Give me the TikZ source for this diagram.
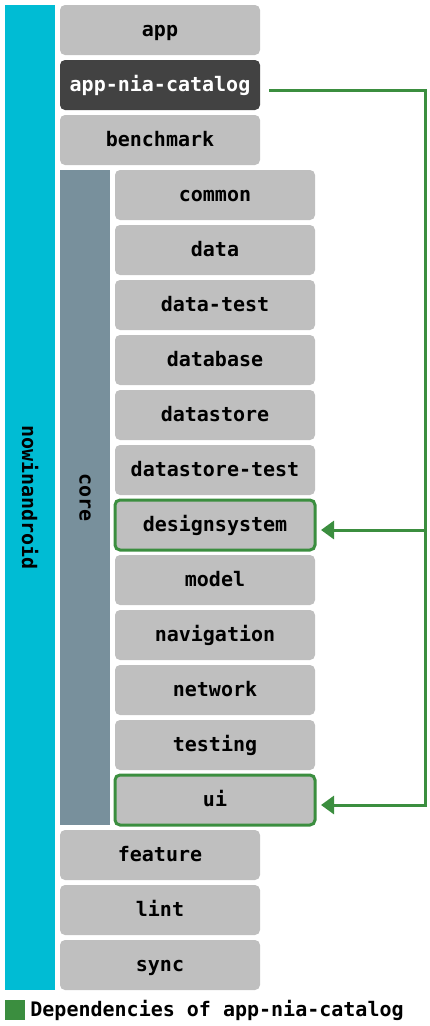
\documentclass[tikz,border=0pt]{standalone}
\usepackage{fontspec}
\setmonofont{DejaVu Sans Mono}
\usetikzlibrary{positioning, arrows.meta}
\definecolor{niaCyan}{HTML}{00BCD4}
\definecolor{niaSlate}{HTML}{78909C}
\definecolor{niaGray}{HTML}{BFBFBF}
\definecolor{niaDark}{HTML}{424242}
\definecolor{niaGreen}{HTML}{3B8E3F}
\tikzset{
    x=1pt, y=1pt, % one unit is one pixel of the reference
    every node/.style={font=\fontsize{20}{22}\selectfont\ttfamily\bfseries},
    node distance=5pt, % gap between stacked modules
    >={Triangle[length=13pt, width=18pt]}, % filled arrow heads
}
\begin{document}
\begin{tikzpicture}[
                                styleBox/.style={fill=niaGray, rounded corners=5pt, minimum width=200pt, minimum height=50pt, inner sep=0pt, outer sep=0pt, text height=13.4pt, text depth=0pt},
                                styleDark/.style={styleBox, fill=niaDark, text=white},
                                styleDep/.style={styleBox, draw=niaGreen, line width=3pt},
                                styleBar/.style={rotate=-90, minimum height=50pt, inner sep=0pt, outer sep=0pt},
                                styleLink/.style={draw=niaGreen, line width=3pt, line join=miter},
                            ]
                            \useasboundingbox (0,0) rectangle (430,-1026);
                            \node[styleBar, fill=niaCyan, minimum width=985pt] (root) at (30,-497.5) {nowinandroid};
                            \node[styleBox, anchor=north west] (app) at (60,-5) {app};
                            \node[styleDark, below=of app] (catalog) {app-nia-catalog};
                            \node[styleBox, below=of catalog] (benchmark) {benchmark};
                            \node[styleBar, fill=niaSlate, minimum width=655pt] (core) at (85,-497.5) {core};
                            \node[styleBox, anchor=north west] (common) at (115,-170) {common};
                            \node[styleBox, below=of common] (data) {data};
                            \node[styleBox, below=of data] (datatest) {data-test};
                            \node[styleBox, below=of datatest] (database) {database};
                            \node[styleBox, below=of database] (datastore) {datastore};
                            \node[styleBox, below=of datastore] (datastoretest) {datastore-test};
                            \node[styleDep, below=of datastoretest] (designsystem) {designsystem};
                            \node[styleBox, below=of designsystem] (model) {model};
                            \node[styleBox, below=of model] (navigation) {navigation};
                            \node[styleBox, below=of navigation] (network) {network};
                            \node[styleBox, below=of network] (testing) {testing};
                            \node[styleDep, below=of testing] (ui) {ui};
                            \node[styleBox, anchor=north west] (feature) at (60,-830) {feature};
                            \node[styleBox, below=of feature] (lint) {lint};
                            \node[styleBox, below=of lint] (sync) {sync};

                            % dependencies of the catalog app
                            \coordinate (turn) at ([xshift=165pt, yshift=-5pt]catalog.east);
                            \coordinate (dsIn) at ([xshift=6pt, yshift=-5pt]designsystem.east);
                            \coordinate (uiIn) at ([xshift=6pt, yshift=-5pt]ui.east);
                            \draw[styleLink, ->] ([xshift=9pt, yshift=-5pt]catalog.east) -- (turn) |- (uiIn);
                            \draw[styleLink, ->] (turn |- dsIn) -- (dsIn);

                            % legend
                            \node[fill=niaGreen, minimum size=20pt, inner sep=0pt] (key) at (15,-1010) {};
                            \node[right=5pt of key, inner sep=0pt] (keytext) {Dependencies of app-nia-catalog};
                        \end{tikzpicture}
\end{document}
